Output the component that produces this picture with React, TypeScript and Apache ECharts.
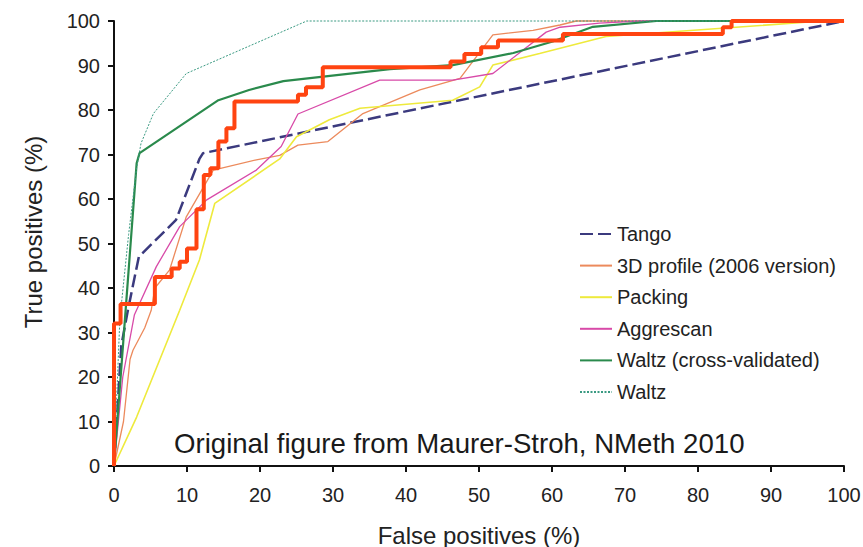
import React, { useEffect, useRef } from "react";
import * as echarts from "echarts";

// ---- data (false positives %, true positives %) ----
const tangoFP = [0, 1, 1.9, 3.4, 8.5, 11.7, 12.2, 100];
const tangoTP = [0, 27, 35, 47, 55.3, 69, 70.3, 100];

const profileFP = [0, 1.3, 2.2, 2.6, 4.2, 5.1, 5.6, 7.6, 9.9, 13.6, 19.5, 22.7, 25.2, 29.3, 34.1, 41.9, 47.4, 51.9, 57.4, 61.1, 63.3, 100];
const profileTP = [0, 10, 24, 26, 31, 35, 40, 44, 56, 66.5, 68.8, 69.8, 72.1, 72.9, 79.2, 84.5, 87.1, 96.9, 97.9, 99.1, 100, 100];

const packingFP = [0, 3.1, 9, 11.7, 13.8, 22.7, 25, 29.5, 33.7, 46.4, 50.1, 51.9, 58.3, 67.4, 97, 100];
const packingTP = [0, 11, 35, 46.3, 59, 69, 74, 77.8, 80.4, 82.2, 85.2, 90.1, 92.7, 96.5, 100, 100];

const aggrescanFP = [0, 1.2, 2.8, 5.8, 9, 12.7, 19.5, 22.9, 25.2, 36.4, 46.4, 51.9, 59.2, 61.1, 66.5, 72, 100];
const aggrescanTP = [0, 20, 34, 44.8, 53.8, 59.8, 66.5, 71.8, 79.1, 86.7, 86.7, 88.2, 97.5, 98.6, 99.5, 100, 100];

const waltzCvFP = [0, 1.5, 3.1, 3.5, 14.3, 18.5, 23.2, 37.8, 46.4, 54.7, 60.1, 65.6, 74.3, 100];
const waltzCvTP = [0, 33, 68, 70.3, 82.2, 84.5, 86.5, 89.2, 90.1, 92.8, 95.4, 98.7, 100, 100];

const waltzFP = [0, 0.8, 2, 3.1, 3.7, 5.4, 9.9, 26.4, 100];
const waltzTP = [0, 33, 52, 67, 72.5, 79.2, 88.2, 100, 100];

// step curve: x where each horizontal run ends, y after the rise
const stepFP = [0, 0, 0.9, 5.6, 7.9, 9.0, 10.0, 11.3, 12.3, 13.2, 14.3, 15.4, 16.5, 25.2, 26.3, 28.6, 46.1, 48.0, 50.3, 52.6, 61.5, 83.4, 84.6, 100];
const stepTP = [0, 32, 36.4, 42.5, 44.4, 45.9, 48.9, 57.7, 65.4, 66.9, 72.9, 75.9, 81.9, 83.4, 85.1, 89.6, 90.9, 92.6, 94.1, 95.6, 97.1, 98.6, 100, 100];

const legendNames = [
  "Tango",
  "3D profile (2006 version)",
  "Packing",
  "Aggrescan",
  "Waltz (cross-validated)",
  "Waltz",
];
const axisTicks = [0, 10, 20, 30, 40, 50, 60, 70, 80, 90, 100];

const zip = (xs: number[], ys: number[]) => xs.map((x, i) => [x, ys[i]]);

const FONT = "Liberation Sans, Arial, Helvetica, sans-serif";

export default function App() {
  const ref = useRef<HTMLDivElement>(null);
  useEffect(() => {
    if (!ref.current) return;
    const chart = echarts.init(ref.current, undefined, { renderer: "svg" });
    const line = (name: string, xs: number[], ys: number[], color: string, width: number, type: any, extra: any = {}) => ({
      name,
      type: "line",
      data: zip(xs, ys),
      symbol: "none",
      clip: false,
      itemStyle: { color },
      lineStyle: { color, width, type },
      ...extra,
    });
    chart.setOption({
      animation: false,
      backgroundColor: "#ffffff",
      textStyle: { fontFamily: FONT },
      grid: { left: 114, right: 19, top: 21, bottom: 81, containLabel: false, outerBoundsMode: "none" },
      legend: {
        data: legendNames,
        orient: "vertical",
        left: 574,
        top: 219,
        itemWidth: 32,
        itemHeight: 14,
        itemGap: 11.6,
        itemStyle: { opacity: 0 },
        textStyle: { fontSize: 20, color: "#222", fontFamily: FONT },
      },
      xAxis: {
        type: "value",
        min: 0,
        max: 100,
        interval: 10,
        name: "False positives (%)",
        nameLocation: "middle",
        nameGap: 57,
        nameTextStyle: { fontSize: 24, color: "#222", fontFamily: FONT },
        axisLine: { show: true, lineStyle: { color: "#111", width: 2 } },
        axisTick: { show: true, length: 6, lineStyle: { color: "#111", width: 2 } },
        axisLabel: {
          fontSize: 20,
          color: "#222",
          margin: 19,
          fontFamily: FONT,
          formatter: (v: number) => (axisTicks.includes(v) ? String(v) : ""),
        },
        splitLine: { show: false },
      },
      yAxis: {
        type: "value",
        min: 0,
        max: 100,
        interval: 10,
        axisLine: { show: true, lineStyle: { color: "#111", width: 2 } },
        axisTick: { show: true, length: 6, lineStyle: { color: "#111", width: 2 } },
        axisLabel: { fontSize: 20, color: "#222", margin: 14, fontFamily: FONT },
        splitLine: { show: false },
      },
      graphic: [
        {
          type: "text",
          x: 33,
          y: 232,
          rotation: Math.PI / 2,
          style: {
            text: "True positives (%)",
            fontSize: 24,
            fill: "#222",
            fontFamily: FONT,
            textAlign: "center",
            textVerticalAlign: "middle",
          },
        },
        {
          type: "text",
          x: 174,
          y: 443,
          style: {
            text: "Original figure from Maurer-Stroh, NMeth 2010",
            fontSize: 27.6,
            fill: "#1a1a1a",
            fontFamily: FONT,
            textAlign: "left",
            textVerticalAlign: "middle",
          },
        },
      ],
      series: [
        line("Tango", tangoFP, tangoTP, "#3b3a7e", 2.5, [13, 5]),
        line("3D profile (2006 version)", profileFP, profileTP, "#ec8a5c", 1.3, "solid"),
        line("Packing", packingFP, packingTP, "#eeea3c", 1.6, "solid"),
        line("Aggrescan", aggrescanFP, aggrescanTP, "#d84aa8", 1.3, "solid"),
        line("Waltz (cross-validated)", waltzCvFP, waltzCvTP, "#2a8a4c", 2.2, "solid"),
        line("Waltz", waltzFP, waltzTP, "#3a9a82", 1, [2, 1.5]),
        line("Maurer-Stroh", stepFP, stepTP, "#ff4411", 4, "solid", { step: "end", z: 5 }),
      ],
    });
    return () => chart.dispose();
  }, []);
  return (
    <div
      ref={ref}
      style={{ position: "fixed", left: 0, top: 0, width: 863, height: 547, background: "#fff" }}
    />
  );
}
